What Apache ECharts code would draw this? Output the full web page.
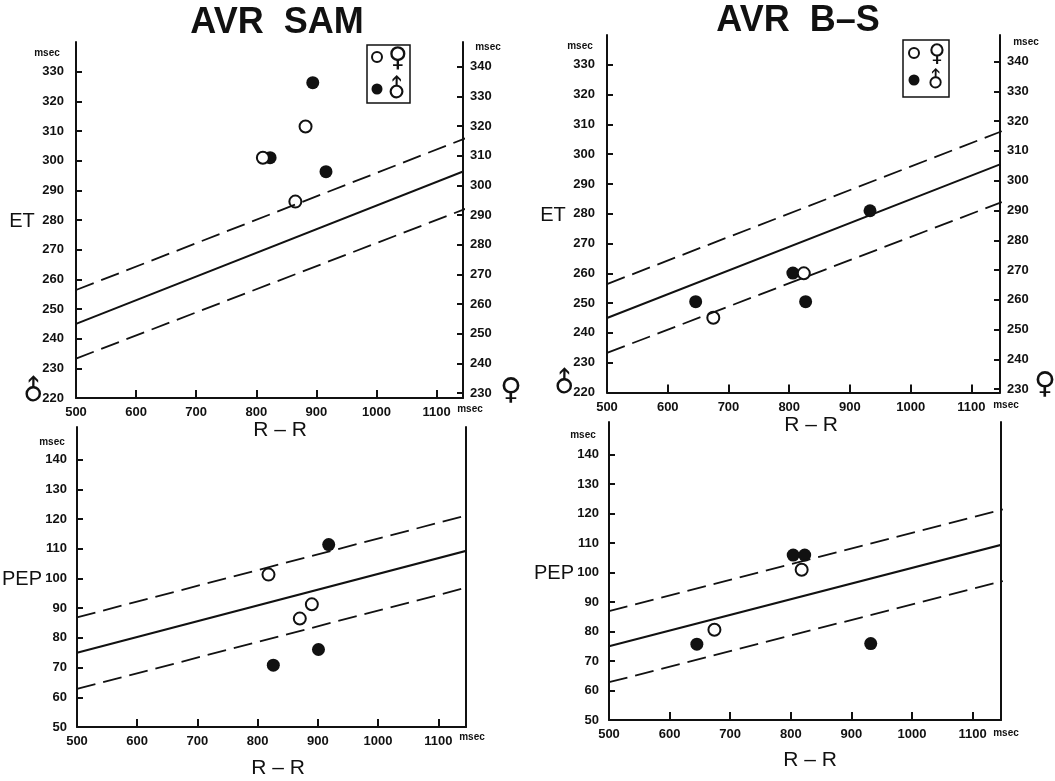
<!DOCTYPE html>
<html>
<head>
    <meta charset="utf-8">
    <title>AVR SAM / AVR B-S</title>
    <script src="https://cdn.jsdelivr.net/npm/echarts@6/dist/echarts.min.js"></script>
    <style>
        html, body { margin: 0; padding: 0; background: #fff; }
        #main { width: 1055px; height: 781px; }
    </style>
</head>
<body>
<div id="main"></div>
<script type="text/javascript">
    // tick values
    var rrTicks = [500, 600, 700, 800, 900, 1000, 1100];
    var etTicksLeft = [220, 230, 240, 250, 260, 270, 280, 290, 300, 310, 320, 330];
    var etTicksRight = [230, 240, 250, 260, 270, 280, 290, 300, 310, 320, 330, 340];
    var pepTicks = [50, 60, 70, 80, 90, 100, 110, 120, 130, 140];

    // ET vs R-R, AVR SAM  ([R-R, ET])
    var samEtFemale = [[811, 301], [882, 311.5], [865, 286.2]];
    var samEtMale = [[823, 301], [894, 326.3], [916, 296.3]];
    // ET vs R-R, AVR B-S
    var bsEtFemale = [[675, 245.1], [824, 260]];
    var bsEtMale = [[646, 250.5], [806, 260.1], [827, 250.5], [933, 281]];
    // PEP vs R-R, AVR SAM
    var samPepFemale = [[818, 101.3], [870, 86.5], [890, 91.3]];
    var samPepMale = [[918, 111.4], [901, 76.1], [826, 70.8]];
    // PEP vs R-R, AVR B-S
    var bsPepFemale = [[818, 100.9], [674, 80.6]];
    var bsPepMale = [[804, 105.9], [823, 105.9], [645, 75.7], [932, 75.9]];

    // normal regression line and its limits (R-R 500 -> 1150)
    var etMean = [[500, 245], [1150, 296.8]];
    var etUpper = [[500, 256.4], [1150, 307.7]];
    var etLower = [[500, 233.3], [1150, 283.9]];
    var pepMean = [[500, 75], [1150, 109.5]];
    var pepUpper = [[500, 86.9], [1150, 121.4]];
    var pepLower = [[500, 62.8], [1150, 97.1]];

    var INK = '#111';
    var FONT = 'Liberation Sans';
    var SYMF = 'DejaVu Sans';

    var myChart = echarts.init(document.getElementById('main'));

    // plain numbers, no thousands separator
    function plain(v) { return String(v); }

    function xAxisFor(g, max) {
        return {
            gridIndex: g, type: 'value', min: 500, max: max,
            axisLine: { onZero: false, lineStyle: { color: INK, width: 2 } },
            axisTick: { inside: true, length: 8, customValues: rrTicks, lineStyle: { color: INK, width: 2 } },
            axisLabel: { customValues: rrTicks, formatter: plain, margin: 8, color: INK, fontFamily: FONT, fontWeight: 'bold', fontSize: 13 },
            splitLine: { show: false }
        };
    }

    function yAxisFor(g, pos, min, max, ticks, margin) {
        var show = !!ticks;
        return {
            gridIndex: g, type: 'value', position: pos, min: min, max: max,
            axisLine: { show: true, onZero: false, lineStyle: { color: INK, width: 2 } },
            axisTick: { show: show, inside: true, length: 6, customValues: ticks || [], lineStyle: { color: INK, width: 2 } },
            axisLabel: { show: show, customValues: ticks || [], formatter: plain, margin: margin || 10, color: INK, fontFamily: FONT, fontWeight: 'bold', fontSize: 13 },
            splitLine: { show: false }
        };
    }

    function panelSeries(g, female, male, lines) {
        var out = [];
        lines.forEach(function (l, i) {
            out.push({
                type: 'line', xAxisIndex: g, yAxisIndex: g * 2, data: l,
                symbol: 'none', silent: true,
                lineStyle: { color: INK, width: i === 0 ? 2 : 1.8, type: i === 0 ? 'solid' : [19, 8] }
            });
        });
        out.push({
            type: 'scatter', xAxisIndex: g, yAxisIndex: g * 2, data: male,
            symbolSize: 13, itemStyle: { color: INK, opacity: 1 }
        });
        out.push({
            type: 'scatter', xAxisIndex: g, yAxisIndex: g * 2, data: female,
            symbolSize: 12, itemStyle: { color: '#fff', borderColor: INK, borderWidth: 2, opacity: 1 }
        });
        return out;
    }

    function txt(x, y, s, size, opts) {
        opts = opts || {};
        return {
            type: 'text', x: x, y: y, rotation: opts.rotation || 0,
            style: {
                text: s, fill: INK, align: opts.align || 'center', verticalAlign: 'middle',
                fontFamily: opts.family || FONT, fontSize: size, fontWeight: opts.weight || 'normal'
            }
        };
    }

    function legendBox(x, y, w, h, cx, cy1, cy2, sx, sz) {
        return [
            { type: 'rect', shape: { x: x, y: y, width: w, height: h }, style: { fill: '#fff', stroke: INK, lineWidth: 1.5 } },
            { type: 'circle', shape: { cx: cx, cy: cy1, r: 5 }, style: { fill: '#fff', stroke: INK, lineWidth: 2 } },
            { type: 'circle', shape: { cx: cx, cy: cy2, r: 5.5 }, style: { fill: INK } },
            txt(sx, cy1 + 2, '\u2640', sz, { family: SYMF, weight: 'bold' }),
            txt(sx, cy2 + 1, '\u2642', sz - 2, { family: SYMF, weight: 'bold', rotation: Math.PI / 4 })
        ];
    }

    var graphics = [
        txt(277, 23, 'AVR  SAM', 36, { weight: 'bold' }),
        txt(798, 21, 'AVR  B\u2013S', 36, { weight: 'bold' }),
        txt(22, 221, 'ET', 20),
        txt(553, 215, 'ET', 20),
        txt(22, 579, 'PEP', 20),
        txt(554, 573, 'PEP', 20),
        txt(280, 430, 'R \u2013 R', 21),
        txt(811, 425, 'R \u2013 R', 21),
        txt(278, 768, 'R \u2013 R', 21),
        txt(810, 760, 'R \u2013 R', 21),
        txt(47, 53, 'msec', 10, { weight: 'bold' }),
        txt(488, 47, 'msec', 10, { weight: 'bold' }),
        txt(470, 409, 'msec', 10, { weight: 'bold' }),
        txt(580, 46, 'msec', 10, { weight: 'bold' }),
        txt(1026, 42, 'msec', 10, { weight: 'bold' }),
        txt(1006, 405, 'msec', 10, { weight: 'bold' }),
        txt(52, 442, 'msec', 10, { weight: 'bold' }),
        txt(472, 737, 'msec', 10, { weight: 'bold' }),
        txt(583, 435, 'msec', 10, { weight: 'bold' }),
        txt(1006, 733, 'msec', 10, { weight: 'bold' }),
        // sex symbols next to the two ET scales
        txt(35, 392, '\u2642', 28, { family: SYMF, weight: 'bold', rotation: Math.PI / 4 }),
        txt(511, 391, '\u2640', 30, { family: SYMF, weight: 'bold' }),
        txt(566, 384, '\u2642', 28, { family: SYMF, weight: 'bold', rotation: Math.PI / 4 }),
        txt(1045, 385, '\u2640', 30, { family: SYMF, weight: 'bold' })
    ].concat(
        legendBox(367, 45, 43, 58, 377, 57, 89, 398, 27),
        legendBox(903, 40, 46, 57, 914, 53, 80, 937, 24)
    );

    var option = {
        animation: false,
        grid: [
            { left: 76, top: 42, width: 387, height: 356, outerBoundsMode: 'none' },
            { left: 607, top: 35, width: 393, height: 357.5, outerBoundsMode: 'none' },
            { left: 77, top: 427, width: 389, height: 300, outerBoundsMode: 'none' },
            { left: 609, top: 422, width: 392, height: 298, outerBoundsMode: 'none' }
        ],
        xAxis: [
            xAxisFor(0, 1144),
            xAxisFor(1, 1147),
            xAxisFor(2, 1146),
            xAxisFor(3, 1147)
        ],
        yAxis: [
            yAxisFor(0, 'left', 220, 340, etTicksLeft, 12),
            yAxisFor(0, 'right', 228.3, 348.3, etTicksRight, 7),
            yAxisFor(1, 'left', 220, 340, etTicksLeft, 12),
            yAxisFor(1, 'right', 228.9, 348.9, etTicksRight, 7),
            yAxisFor(2, 'left', 50, 151, pepTicks, 10),
            yAxisFor(2, 'right', 50, 151, null),
            yAxisFor(3, 'left', 50, 151, pepTicks, 10),
            yAxisFor(3, 'right', 50, 151, null)
        ],
        graphic: graphics,
        series: [].concat(
            panelSeries(0, samEtFemale, samEtMale, [etMean, etUpper, etLower]),
            panelSeries(1, bsEtFemale, bsEtMale, [etMean, etUpper, etLower]),
            panelSeries(2, samPepFemale, samPepMale, [pepMean, pepUpper, pepLower]),
            panelSeries(3, bsPepFemale, bsPepMale, [pepMean, pepUpper, pepLower])
        )
    };

    myChart.setOption(option);
</script>
</body>
</html>
